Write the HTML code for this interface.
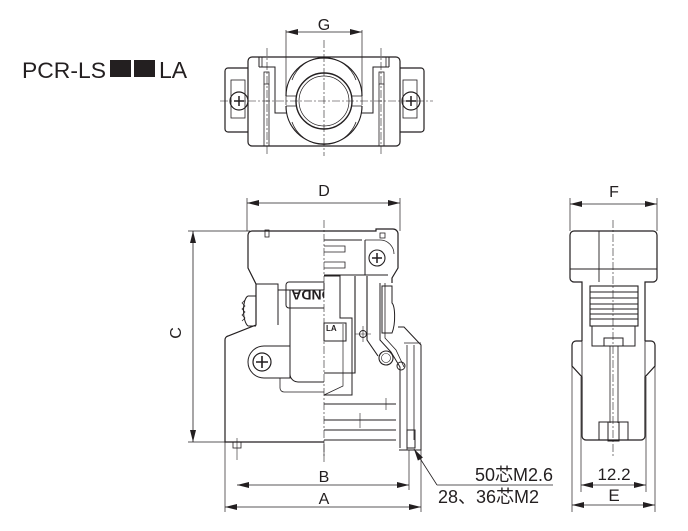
<!DOCTYPE html>
<html><head><meta charset="utf-8"><style>
html,body{margin:0;padding:0;background:#fff;width:688px;height:531px;overflow:hidden}
svg{display:block}
text{font-family:"Liberation Sans","Noto Sans CJK JP",sans-serif;fill:#231f20}
</style></head><body>
<svg width="688" height="531" viewBox="0 0 688 531" xmlns="http://www.w3.org/2000/svg">
<defs>
<marker id="ar" viewBox="0 0 12 6" refX="12" refY="3" markerWidth="12" markerHeight="6" orient="auto-start-reverse" markerUnits="userSpaceOnUse"><path d="M0,0L12,3L0,6z" fill="#231f20"/></marker>
<clipPath id="lh"><rect x="280" y="280" width="44" height="30"/></clipPath>
</defs>
<text x="22" y="78" font-size="22.5" textLength="84" lengthAdjust="spacingAndGlyphs">PCR-LS</text>
<rect x="110" y="60" width="21" height="17" fill="#231f20"/>
<rect x="134" y="60" width="21" height="17" fill="#231f20"/>
<text x="159" y="78" font-size="23">LA</text>

<!-- TOP VIEW -->
<g stroke="#231f20" fill="none" stroke-width="1.2">
<line x1="286" y1="30" x2="286" y2="105" stroke-width="0.7"/>
<line x1="362" y1="30" x2="362" y2="105" stroke-width="0.7"/>
<line x1="286" y1="32" x2="362" y2="32" stroke-width="0.8" marker-start="url(#ar)" marker-end="url(#ar)"/>
<rect x="248" y="57" width="152" height="89" rx="4"/>
<path d="M248,68 H228 a3,3 0 0 0 -3,3 V129 a3,3 0 0 0 3,3 H248"/>
<path d="M400,68 H421 a3,3 0 0 1 3,3 V129 a3,3 0 0 1 -3,3 H400"/>
<rect x="231" y="80" width="14" height="38" stroke-width="0.8"/>
<rect x="403" y="80" width="14" height="38" stroke-width="0.8"/>
<circle cx="239" cy="101" r="9"/><circle cx="411" cy="101" r="9"/>
<path d="M234,101h10M239,96v10M406,101h10M411,96v10" stroke-width="1.5"/>
<path d="M259,57 V67 M259,67 H275 V113 H287 M389,57 V67 M389,67 H373 V113 H361" stroke-width="1"/>
<path d="M262,57 v10 M386,57 v10" stroke-width="0.8"/>
<rect x="264" y="72" width="5" height="12" stroke-width="0.8"/>
<rect x="379" y="72" width="5" height="12" stroke-width="0.8"/>
<path d="M264,84 V146 M269,84 V146 M379,84 V146 M384,84 V146" stroke-width="0.8"/>
<path d="M286,96 A38,38 0 0 1 362,96" stroke-width="1.2"/>
<path d="M286,106 A38,38 0 0 0 362,106" stroke-width="1.2"/>
<path d="M292,80 A34,34 0 0 1 356,80 M292,122 A34,34 0 0 0 356,122" stroke-width="0.8"/>
<circle cx="324" cy="101" r="28" stroke-width="1.4"/>
<circle cx="324" cy="101" r="25" stroke-width="0.7"/>
<path d="M286,96 H296 M286,106 H296 M352,96 H362 M352,106 H362" stroke-width="0.8"/>
<line x1="220" y1="101" x2="433" y2="101" stroke-width="0.6" stroke-dasharray="8,2,2,2"/>
<line x1="324" y1="40" x2="324" y2="156" stroke-width="0.6" stroke-dasharray="8,2,2,2"/>
<line x1="267" y1="48" x2="267" y2="156" stroke-width="0.6" stroke-dasharray="8,2,2,2"/>
<line x1="381" y1="48" x2="381" y2="156" stroke-width="0.6" stroke-dasharray="8,2,2,2"/>
</g>
<text x="324" y="30" font-size="16" text-anchor="middle">G</text>

<!-- FRONT VIEW -->
<g stroke="#231f20" fill="none" stroke-width="1.2">
<line x1="247" y1="198" x2="247" y2="231" stroke-width="0.7"/>
<line x1="400" y1="198" x2="400" y2="231" stroke-width="0.7"/>
<line x1="247" y1="203" x2="400" y2="203" stroke-width="0.8" marker-start="url(#ar)" marker-end="url(#ar)"/>
<line x1="188" y1="231" x2="250" y2="231" stroke-width="0.7"/>
<line x1="188" y1="442" x2="240" y2="442" stroke-width="0.7"/>
<line x1="193" y1="231" x2="193" y2="442" stroke-width="0.8" marker-start="url(#ar)" marker-end="url(#ar)"/>
<path d="M324,231 H252 a4,4 0 0 0 -4,4 V268 L256,284 V325 L228,336 a4,4 0 0 0 -3,4 V442 H324"/>
<path d="M256,284 H278 V325 M278,290 H324" stroke-width="1"/>
<path d="M248,296 c-6,3 -6,25 0,30 M248,296 h8 M248,326 h8" stroke-width="1"/>
<path d="M245,300 l-3,3 3,3 -3,3 3,3 -3,3 3,3 -3,3" stroke-width="0.7"/>
<rect x="265" y="230" width="4" height="7" stroke-width="0.8"/>
<rect x="233" y="442" width="8" height="6" stroke-width="0.8"/>
<line x1="237" y1="438" x2="237" y2="460" stroke-width="0.6"/>
<path d="M264,346 H290 V378 H264 a16,16 0 0 1 0,-32z" stroke-width="1"/>
<circle cx="262" cy="362" r="9"/><path d="M256,362h12M262,356v12" stroke-width="1.6"/>
<path d="M290,290 V374 a8,8 0 0 0 8,8 H324" stroke-width="1"/>
<path d="M280,378 V388 a4,4 0 0 0 4,4 H324" stroke-width="0.8"/>
<rect x="286" y="282" width="44" height="26" rx="3" stroke-width="1" clip-path="url(#lh)"/>
<path d="M324,231 H376 V229 H393 a5,5 0 0 1 5,5 V268 L392,278 V283"/>
<path d="M324,240 H362 M324,275 H388" stroke-width="1"/>
<path d="M324,246 H345 V252 H324 M324,262 H345 V268 H324" stroke-width="0.8"/>
<path d="M365,240 V275 M324,283 V290" stroke-width="1"/>
<path d="M365,240 H380 a14,14 0 0 1 14,14" stroke-width="0.8"/>
<circle cx="377" cy="258" r="8" stroke-width="1.1"/><path d="M372,258h10M377,253v10" stroke-width="1.5"/>
<rect x="380" y="233" width="5" height="5" stroke-width="0.8"/>
<path d="M324,276 H340 V318 H352 V395 H324" stroke-width="1"/>
<path d="M324,395 L343,386 V324" stroke-width="0.7"/>
<path d="M355,276 V373 H324 M367,276 V340 L378,356" stroke-width="1.1"/>
<rect x="324" y="323" width="22" height="18" stroke-width="1"/>
<circle cx="363" cy="334" r="3.5" stroke-width="0.9"/><path d="M355,334h16M363,326v16" stroke-width="0.6"/>
<path d="M382,286 H392 V303 c3,3 4,20 0,30 H382 z" stroke-width="1"/>
<path d="M380,283 L380,340 L391,352 L400,367 V448" stroke-width="1"/>
<path d="M385,283 V338 L396,350 L404,367" stroke-width="0.8"/>
<circle cx="386" cy="358" r="7" stroke-width="1.1"/><circle cx="386" cy="358" r="4.5" stroke-width="0.6"/>
<circle cx="401" cy="366" r="4" stroke-width="1"/>
<path d="M398,327 H404 L421,345 V450 H399" stroke-width="1"/>
<path d="M404,343 H421 M407,345 V450 M414,345 V440" stroke-width="0.8"/>
<rect x="407" y="430" width="8" height="18" stroke-width="1"/>
<path d="M324,404 H396 M324,420 H396 M324,430 H396 M324,440 H396" stroke-width="1"/>
<path d="M360,413v15 M352,420h15 M386,398v12" stroke-width="0.6"/>
<line x1="324" y1="220" x2="324" y2="462" stroke-width="0.6" stroke-dasharray="8,2,2,2"/>
<line x1="409" y1="450" x2="409" y2="490" stroke-width="0.7"/>
<line x1="421" y1="450" x2="421" y2="512" stroke-width="0.7"/>
<line x1="225" y1="442" x2="225" y2="512" stroke-width="0.7"/>
<line x1="237" y1="485" x2="409" y2="485" stroke-width="0.8" marker-start="url(#ar)" marker-end="url(#ar)"/>
<line x1="225" y1="507" x2="421" y2="507" stroke-width="0.8" marker-start="url(#ar)" marker-end="url(#ar)"/>
<line x1="324" y1="442" x2="324" y2="458" stroke-width="0.6"/>
<path d="M437,485 L414,449" stroke-width="0.8" marker-end="url(#ar)"/>
<line x1="437" y1="485" x2="553" y2="485" stroke-width="0.8"/>
</g>
<g clip-path="url(#lh)"><text x="317" y="300" font-size="14" font-weight="bold" transform="rotate(180 317 295)" text-anchor="middle">HONDA</text></g>
<text x="326" y="331" font-size="8" font-weight="bold">LA</text>
<text x="324" y="196" font-size="16" text-anchor="middle">D</text>
<text x="186" y="338" font-size="16" text-anchor="middle" transform="rotate(-90 181 338)">C</text>
<text x="324" y="482" font-size="16" text-anchor="middle">B</text>
<text x="324" y="504" font-size="16" text-anchor="middle">A</text>
<text x="553" y="481" font-size="18" text-anchor="end">50芯M2.6</text>
<text x="438" y="503" font-size="18">28、36芯M2</text>

<!-- SIDE VIEW -->
<g stroke="#231f20" fill="none" stroke-width="1.2">
<line x1="570" y1="198" x2="570" y2="231" stroke-width="0.7"/>
<line x1="657" y1="198" x2="657" y2="231" stroke-width="0.7"/>
<line x1="570" y1="204" x2="657" y2="204" stroke-width="0.8" marker-start="url(#ar)" marker-end="url(#ar)"/>
<path d="M574,231 H653 a4,4 0 0 1 4,4 V278 a4,4 0 0 1 -4,4 H645 V341 M574,231 a4,4 0 0 0 -4,4 V278 a4,4 0 0 0 4,4 H582 V341"/>
<path d="M570,269 H657 M599,231 V282" stroke-width="0.9"/>
<path d="M582,341 H576 a4,4 0 0 0 -4,4 V366 L582,377 V436 a4,4 0 0 0 4,4 H641 a4,4 0 0 0 4,-4 V377 L655,366 V345 a4,4 0 0 0 -4,-4 H645"/>
<path d="M582,377 V341 M645,377 V341" stroke-width="0.8"/>
<rect x="590" y="286" width="48" height="40" stroke-width="1.1"/>
<path d="M590,292H638M590,298H638M590,304H638M590,309H638M590,314H638M590,319H638" stroke-width="0.9"/>
<path d="M592,326 V346 H635 V326 M604,346 V338 H623 V346" stroke-width="1"/>
<path d="M610,346 V423 M618,346 V423" stroke-width="0.8"/>
<path d="M599,440 V422 H608 M619,422 H628 V440" stroke-width="1"/>
<rect x="608" y="422" width="11" height="19" stroke-width="1"/>
<line x1="613" y1="220" x2="613" y2="458" stroke-width="0.6" stroke-dasharray="8,2,2,2"/>
<line x1="581" y1="377" x2="581" y2="492" stroke-width="0.7"/>
<line x1="646" y1="377" x2="646" y2="492" stroke-width="0.7"/>
<line x1="572" y1="366" x2="572" y2="512" stroke-width="0.7"/>
<line x1="655" y1="366" x2="655" y2="512" stroke-width="0.7"/>
<line x1="581" y1="485" x2="646" y2="485" stroke-width="0.8" marker-start="url(#ar)" marker-end="url(#ar)"/>
<line x1="572" y1="505" x2="655" y2="505" stroke-width="0.8" marker-start="url(#ar)" marker-end="url(#ar)"/>
</g>
<text x="614" y="197" font-size="16" text-anchor="middle">F</text>
<text x="614" y="480" font-size="17" text-anchor="middle">12.2</text>
<text x="614" y="501" font-size="17" text-anchor="middle">E</text>
</svg>
</body></html>
